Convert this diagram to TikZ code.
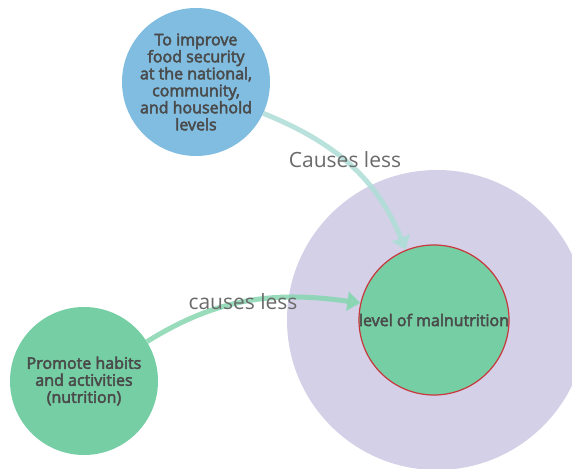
\documentclass[tikz,border=0pt]{standalone}
\usepackage{fontspec}
\setmainfont{Open Sans}
\newfontfamily\bubblefont{Open Sans}[FakeBold=3]
\usetikzlibrary{arrows.meta,positioning}

%% colours
\definecolor{bubbleblue}{HTML}{80BDE0}
\definecolor{bubblegreen}{HTML}{76CFA4}
\definecolor{fieldpurple}{HTML}{D4D0E8}
\definecolor{rimred}{HTML}{C8373B}
\definecolor{arrowteal}{HTML}{AEDDD6}
\definecolor{arrowgreen}{HTML}{86D6B0}
\definecolor{textgray}{HTML}{4A4A4A}
\definecolor{labelgray}{HTML}{6A6A6A}

\tikzset{
  bubble/.style={circle, minimum size=148pt, inner sep=0pt, align=center,
    text=textgray, font=\bubblefont\fontsize{16}{17}\selectfont},
  causes/.style={line width=5pt, -{Triangle[length=13pt,width=19pt]}, opacity=0.85},
  causelabel/.style={text=labelgray, font=\fontsize{21}{24}\selectfont},
}

\begin{document}
\begin{tikzpicture}[x=1pt,y=1pt]
	%% frame of the picture
	\useasboundingbox (0,0) rectangle (572,468);
	\clip (0,0) rectangle (572,468);

	%% big background disc
	\fill[fieldpurple] (437,148) circle (150);

	%% the bubbles
	\node[bubble, fill=bubblegreen, draw=rimred, line width=1.2pt,
	      minimum size=148pt] (level) at (434,148) {level of malnutrition};
	\node[bubble, fill=bubbleblue] (improve) at (196,386)
	  {To improve\\food security\\at the national,\\community,\\and household\\levels};
	\node[bubble, fill=bubblegreen] (promote) at (84,87)
	  {Promote habits\\and activities\\(nutrition)};

	%% connectors
	\draw[causes, arrowteal] (improve.-25) to[out=-22, in=112] (level.112);
	\draw[causes, arrowgreen] (promote.32) to[out=32, in=172] (level.167);

	%% connector labels
	\node[causelabel] (lblimprove) at (345,308) {Causes less};
	\node[causelabel] (lblpromote) at (243,166) {causes less};
	%\draw[fill=red] (level) circle (2pt);
\end{tikzpicture}
\end{document}
